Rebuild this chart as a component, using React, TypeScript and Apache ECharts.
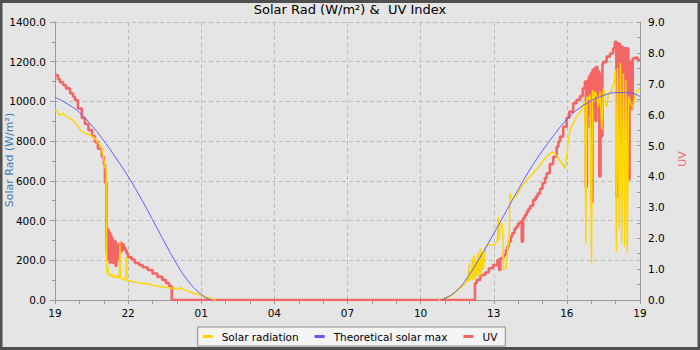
import React, { useEffect, useRef } from "react";
import * as echarts from "echarts";

const xTickLabels = ["19", "22", "01", "04", "07", "10", "13", "16", "19"];
const seriesNames = ["Solar radiation", "Theoretical solar max", "UV"];

// [hours since 19:00, W/m²]
const solarRadiation: any[] = [
  [0, 960], [0.1, 945], [0.2, 928], [0.27, 935], [0.33, 942], [0.4, 930], [0.5, 922], [0.62, 915],
  [0.74, 905], [0.82, 895], [0.96, 875], [1.03, 856], [1.15, 845], [1.23, 839], [1.35, 835],
  [1.44, 831], [1.55, 822], [1.64, 814], [1.72, 800], [1.85, 780], [1.92, 760], [1.98, 722],
  [2.05, 671], [2.1, 655], [2.12, 201], [2.14, 134], [2.17, 168], [2.19, 130], [2.25, 126],
  [2.3, 120], [2.33, 132], [2.36, 118], [2.4, 115], [2.45, 120], [2.5, 112], [2.55, 125],
  [2.6, 110], [2.64, 115], [2.66, 294], [2.68, 112], [2.75, 105], [2.85, 100], [2.91, 120],
  [2.93, 218], [2.96, 95], [3.0, 98], [3.3, 90], [3.62, 84], [4.0, 75], [4.17, 70], [4.5, 64],
  [4.85, 59], [5.1, 55], [5.18, 65], [5.22, 58], [5.3, 52], [5.5, 42], [5.75, 33], [5.95, 25],
  [6.2, 15], [6.5, 3], [6.6, 0], [6.7, "-"],
  [15.75, 0], [15.9, 6], [16.2, 17], [16.48, 45], [16.6, 59], [16.75, 72], [16.85, 84],
  [16.9, 110], [16.95, 92], [17.0, 185], [17.03, 100], [17.08, 110], [17.12, 210], [17.15, 100],
  [17.2, 227], [17.23, 105], [17.28, 200], [17.32, 117], [17.36, 240], [17.4, 120], [17.45, 260],
  [17.48, 125], [17.52, 240], [17.57, 151], [17.62, 227], [17.67, 268], [17.75, 277], [17.9, 277],
  [18.05, 280], [18.15, 300], [18.19, 420], [18.22, 300], [18.26, 386], [18.33, 386], [18.38, 300],
  [18.4, 151], [18.5, 160], [18.58, 268], [18.63, 300], [18.67, 535], [18.73, 512], [18.8, 512],
  [18.95, 529], [19.08, 560], [19.2, 580], [19.35, 604], [19.49, 621], [19.7, 650], [19.9, 680],
  [20.05, 705], [20.17, 722], [20.3, 738], [20.42, 745], [20.5, 740], [20.6, 722], [20.72, 700],
  [20.85, 680], [20.92, 663], [20.99, 722], [21.06, 806], [21.13, 856], [21.26, 890], [21.4, 923],
  [21.5, 940], [21.6, 957], [21.67, 982], [21.74, 999], [21.78, 285], [21.82, 1024], [21.86, 1010],
  [21.95, 1032], [22.01, 185], [22.05, 1058], [22.1, 1000], [22.15, 1050], [22.22, 1032],
  [22.29, 973], [22.36, 1050], [22.43, 856], [22.5, 1066], [22.57, 1024], [22.63, 973],
  [22.7, 1032], [22.77, 1040], [22.84, 1066], [22.93, 1091], [22.99, 1158], [23.03, 243],
  [23.08, 1167], [23.15, 352], [23.2, 1192], [23.25, 285], [23.32, 1141], [23.37, 268],
  [23.42, 1108], [23.48, 235], [23.53, 1024], [23.62, 990], [23.7, 965], [23.79, 1024],
  [23.86, 1050], [24, 1066],
];

// [hours since 19:00, W/m²]
const theoreticalMax: any[] = [
  [0, 1021], [0.5, 988], [1, 945], [1.5, 880], [2, 802], [2.5, 715], [3, 622], [3.5, 518],
  [4, 405], [4.5, 290], [5, 180], [5.5, 90], [6, 28], [6.3, 5], [6.45, 0], [6.5, "-"],
  [15.8, 0], [16, 8], [16.5, 50], [17, 128], [17.5, 228], [18, 335], [18.5, 445], [19, 555],
  [19.5, 660], [20, 752], [20.5, 835], [21, 910], [21.5, 965], [22, 1003], [22.5, 1030],
  [23, 1044], [23.5, 1044], [24, 1024],
];

// [hours since 19:00, UV index]
const uvIndex: any[] = [
  [0, 7.28], [0.12, 7.15], [0.2, 7.05], [0.33, 6.96], [0.45, 6.85], [0.62, 6.69], [0.74, 6.58],
  [0.82, 6.47], [0.94, 6.2], [1.1, 5.89], [1.23, 5.7], [1.37, 5.5], [1.52, 5.3], [1.64, 5.12],
  [1.76, 4.9], [1.92, 4.64], [2.0, 4.4], [2.05, 3.8], [2.11, 2.4], [2.13, 1.5], [2.16, 2.3],
  [2.19, 1.3], [2.22, 2.2], [2.25, 1.2], [2.28, 2.1], [2.31, 1.4], [2.34, 2.0], [2.37, 1.2],
  [2.4, 1.9], [2.43, 1.4], [2.46, 1.9], [2.49, 1.1], [2.52, 1.7], [2.56, 1.3], [2.6, 1.8],
  [2.63, 1.5], [2.67, 1.85], [2.72, 1.6], [2.77, 1.8], [2.82, 1.7], [2.88, 1.6], [2.94, 1.5],
  [3.0, 1.38], [3.15, 1.3], [3.28, 1.2], [3.45, 1.13], [3.6, 1.06], [3.8, 0.97], [4.0, 0.86],
  [4.2, 0.75], [4.4, 0.65], [4.55, 0.55], [4.68, 0.45], [4.79, 0],
  [17.23, 0.54], [17.3, 0.65], [17.45, 0.81], [17.65, 0.89], [17.8, 1.03], [17.97, 1.13],
  [18.15, 1.29], [18.22, 0.97], [18.27, 1.35], [18.4, 1.46], [18.5, 1.62], [18.56, 1.73],
  [18.62, 1.89], [18.7, 2.05], [18.76, 2.16], [18.85, 2.3], [18.92, 2.37], [19.0, 2.48],
  [19.1, 2.53], [19.15, 1.89], [19.2, 2.65], [19.28, 2.75], [19.35, 2.86], [19.42, 2.95],
  [19.5, 3.05], [19.62, 3.24], [19.72, 3.34], [19.8, 3.45], [19.9, 3.6], [20.0, 3.78],
  [20.1, 3.95], [20.17, 4.1], [20.3, 4.4], [20.44, 4.64], [20.58, 4.96], [20.65, 5.13],
  [20.72, 5.29], [20.85, 5.61], [20.99, 5.9], [21.1, 6.1], [21.26, 6.37], [21.4, 6.48],
  [21.54, 6.6], [21.65, 6.85], [21.74, 7.07], [21.78, 3.67], [21.82, 7.1], [21.86, 6.0],
  [21.9, 7.23], [21.94, 5.6], [21.98, 7.34], [22.01, 3.18], [22.05, 7.45], [22.09, 6.2],
  [22.13, 7.5], [22.17, 5.8], [22.21, 7.55], [22.25, 6.6], [22.29, 7.4], [22.33, 4.0],
  [22.38, 7.3], [22.42, 5.3], [22.46, 7.65], [22.5, 7.71], [22.63, 7.88], [22.77, 7.98],
  [22.9, 8.15], [22.97, 8.36], [23.03, 3.34], [23.08, 8.3], [23.17, 4.64], [23.22, 8.2],
  [23.3, 4.5], [23.35, 8.15], [23.41, 4.31], [23.46, 8.15], [23.52, 3.9], [23.57, 7.72],
  [23.64, 6.2], [23.7, 7.82], [23.8, 7.85], [23.9, 7.77], [24, 7.77],
];

const YELLOW = "#ffd700";
const BLUE = "#5c5cff";
const RED = "#f46666";
const AXIS = "#9a9a9a";
const FONT = "DejaVu Sans";

export default function App() {
  const ref = useRef<HTMLDivElement>(null);
  useEffect(() => {
    const chart = echarts.init(ref.current as HTMLDivElement, null, { renderer: "svg" });
    const option: any = {
      animation: false,
      backgroundColor: "#e5e5e5",
      textStyle: { fontFamily: FONT },
      title: {
        text: "Solar Rad (W/m²) &  UV Index",
        left: "center",
        top: 3,
        padding: 0,
        textStyle: { fontSize: 13, fontWeight: "normal", color: "#000", fontFamily: FONT },
      },
      legend: {
        data: seriesNames,
        left: "center",
        top: 327,
        icon: "rect",
        itemWidth: 10,
        itemHeight: 3,
        itemGap: 16,
        padding: [4, 8, 4, 5],
        backgroundColor: "#f4f4f4",
        borderColor: "#8a8a8a",
        borderWidth: 1,
        textStyle: { fontSize: 10.5, color: "#000", fontFamily: FONT, padding: [0, 0, 0, 4] },
      },
      grid: { left: 55, right: 60, top: 22, bottom: 50, outerBoundsMode: "none" },
      xAxis: {
        type: "value",
        min: 0,
        max: 24,
        interval: 3,
        axisLine: { show: true, lineStyle: { color: AXIS, width: 1 } },
        axisTick: { show: true, length: 4, lineStyle: { color: AXIS } },
        minorTick: { show: true, splitNumber: 3, length: 4, lineStyle: { color: AXIS } },
        axisLabel: {
          color: "#000",
          fontSize: 10.5,
          fontFamily: FONT,
          margin: 7,
          formatter: (v: number) => xTickLabels[Math.round(v / 3)] ?? "",
        },
        splitLine: { show: true, lineStyle: { color: "#bcbcbc", type: [4, 3] } },
      },
      yAxis: [
        {
          type: "value",
          position: "left",
          min: 0,
          max: 1400,
          interval: 200,
          axisLine: { show: true, lineStyle: { color: AXIS, width: 1 } },
          axisTick: { show: true, length: 5, lineStyle: { color: AXIS } },
          minorTick: { show: true, splitNumber: 2, length: 3, lineStyle: { color: AXIS } },
          axisLabel: {
            color: "#000",
            fontSize: 10.5,
            fontFamily: FONT,
            margin: 9,
            formatter: (v: number) => v.toFixed(1),
          },
          splitLine: { show: true, lineStyle: { color: "#bcbcbc", type: [4, 3] } },
        },
        {
          type: "value",
          position: "right",
          min: 0,
          max: 9,
          interval: 1,
          axisLine: { show: true, lineStyle: { color: AXIS, width: 1 } },
          axisTick: { show: true, inside: true, length: 3, lineStyle: { color: AXIS } },
          minorTick: { show: true, splitNumber: 2, length: 3, lineStyle: { color: AXIS } },
          axisLabel: {
            color: "#000",
            fontSize: 10.5,
            fontFamily: FONT,
            margin: 8,
            formatter: (v: number) => v.toFixed(1),
          },
          splitLine: { show: false },
        },
      ],
      series: [
        {
          name: "UV",
          type: "line",
          yAxisIndex: 1,
          data: uvIndex,
          step: "end",
          symbol: "none",
          color: RED,
          lineStyle: { width: 2.6, color: RED },
          z: 2,
        },
        {
          name: "Solar radiation",
          type: "line",
          yAxisIndex: 0,
          data: solarRadiation,
          symbol: "none",
          connectNulls: false,
          color: YELLOW,
          lineStyle: { width: 1.5, color: YELLOW },
          z: 3,
        },
        {
          name: "Theoretical solar max",
          type: "line",
          yAxisIndex: 0,
          data: theoreticalMax,
          symbol: "none",
          smooth: 0.5,
          connectNulls: false,
          color: BLUE,
          lineStyle: { width: 1, color: BLUE },
          z: 4,
        },
      ],
      graphic: [
        {
          type: "text",
          x: 9,
          y: 160,
          rotation: Math.PI / 2,
          style: {
            text: "Solar Rad (W/m²)",
            fill: "#3b7db3",
            fontSize: 11,
            fontFamily: FONT,
            align: "center",
            verticalAlign: "middle",
          },
        },
        {
          type: "text",
          x: 682,
          y: 159,
          rotation: Math.PI / 2,
          style: {
            text: "UV",
            fill: RED,
            fontSize: 11,
            fontFamily: FONT,
            align: "center",
            verticalAlign: "middle",
          },
        },
        {
          type: "rect",
          silent: true,
          z: 100,
          shape: { x: 1, y: 1.5, width: 698, height: 347 },
          style: { fill: "none", stroke: "#505050", lineWidth: 3 },
        },
      ],
    };
    chart.setOption(option);
    return () => chart.dispose();
  }, []);
  return (
    <div
      ref={ref}
      style={{ position: "absolute", left: 0, top: 0, width: 700, height: 350 }}
    />
  );
}
